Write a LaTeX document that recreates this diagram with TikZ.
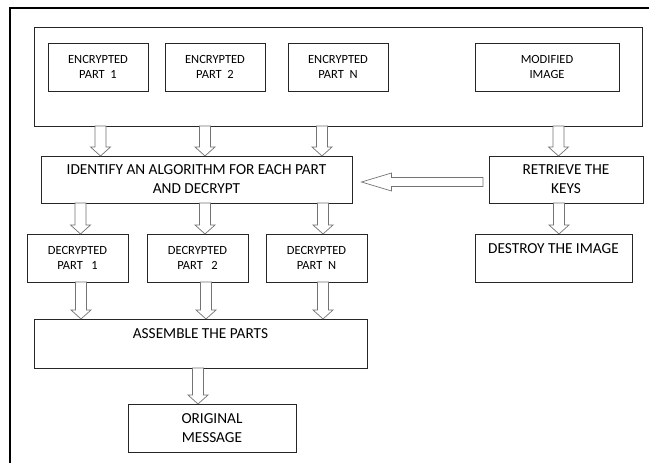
\documentclass[tikz,border=0pt]{standalone}
\usepackage{fontspec}
\setmainfont{Carlito}
\usetikzlibrary{positioning, calc}

\begin{document}
\begin{tikzpicture}[
    x=1pt, y=1pt,
    pc/.style={rectangle, draw=black!85, line width=0.8pt, outer sep=0pt, inner sep=0pt, font=\fontsize{12.5}{15}\selectfont, minimum height=48pt, align=center},
    st/.style={pc, font=\fontsize{15.3}{19}\selectfont, minimum height=47pt},
    da/.style={draw=black!55, fill=white, line width=0.7pt, to path={let \p1=(\tikztostart), \p2=(\tikztotarget) in
        (\x1-5.5pt,\y1) -- (\x1-5.5pt,\y2+9pt) -- (\x1-10pt,\y2+9pt) -- (\x1,\y2) -- (\x1+10pt,\y2+9pt) -- (\x1+5.5pt,\y2+9pt) -- (\x1+5.5pt,\y1) -- cycle}},
    la/.style={draw=black!55, fill=white, line width=0.7pt, to path={let \p1=(\tikztostart), \p2=(\tikztotarget) in
        (\x1,\y1-4.5pt) -- (\x2+30pt,\y1-4.5pt) -- (\x2+30pt,\y1-9pt) -- (\x2,\y1) -- (\x2+30pt,\y1+9pt) -- (\x2+30pt,\y1+4.5pt) -- (\x1,\y1+4.5pt) -- cycle}},
]
    \useasboundingbox (0,0) rectangle (649,463);
    \draw[line width=1.6pt] (10,0) -- (10,455) -- (649,455);

    \node[pc, minimum width=608pt, minimum height=99pt] (cont) at (338,386.5) {};
    \node[pc, minimum width=100pt, below right=16pt and 14pt of cont.north west] (e1) {ENCRYPTED\\PART\ \ 1};
    \node[pc, minimum width=100pt, right=17pt of e1] (e2) {ENCRYPTED\\PART\ \ 2};
    \node[pc, minimum width=100pt, right=23pt of e2] (en) {ENCRYPTED\\PART\ \ N};
    \node[pc, minimum width=144pt, right=87pt of en] (mi) {MODIFIED\\IMAGE};
    \node[st, minimum width=311pt, below right=30pt and 7pt of cont.south west] (ident) {IDENTIFY AN ALGORITHM FOR EACH PART\\AND DECRYPT};
    \node[st, minimum width=154pt, right=137pt of ident] (ret) {RETRIEVE THE\\KEYS};
    \node[pc, minimum width=101pt, below right=31pt and -14pt of ident.south west] (d1) {DECRYPTED\\PART\ \ \ 1};
    \node[pc, minimum width=101pt, right=19pt of d1] (d2) {DECRYPTED\\PART\ \ \ 2};
    \node[pc, minimum width=101pt, right=18pt of d2] (dn) {DECRYPTED\\PART\ \ N};
    \node[st, minimum width=157pt, minimum height=48pt, below left=31pt and 11pt of ret.south east] (dest) {DESTROY THE IMAGE\\ ~};
    \node[st, minimum width=333pt, minimum height=49pt, below right=37pt and 7pt of d1.south west] (asm) {ASSEMBLE THE PARTS\\ ~};
    \node[st, minimum width=168pt, minimum height=48pt, below right=36pt and 94pt of asm.south west] (orig) {ORIGINAL\\MESSAGE};

    \draw[da] ([xshift=-237.5pt]cont.south) to (ident.north);
    \draw[da] ([xshift=-133pt]cont.south) to (ident.north);
    \draw[da] ([xshift=-16pt]cont.south) to (ident.north);
    \draw[da] ([xshift=220.5pt]cont.south) to (ret.north);
    \draw[la] ([xshift=-6pt, yshift=-2.5pt]ret.west) to ([xshift=9.5pt]ident.east);
    \draw[da] ([xshift=-116pt]ident.south) to (d1.north);
    \draw[da] ([xshift=8.5pt]ident.south) to (d2.north);
    \draw[da] ([xshift=126.5pt]ident.south) to (dn.north);
    \draw[da] ([xshift=-7pt]ret.south) to (dest.north);
    \draw[da] ([xshift=3.5pt]d1.south) to (asm.north);
    \draw[da] ([xshift=8.5pt]d2.south) to (asm.north);
    \draw[da] ([xshift=6.5pt]dn.south) to (asm.north);
    \draw[da] ([xshift=-2.5pt]asm.south) to (orig.north);
\end{tikzpicture}
\end{document}
